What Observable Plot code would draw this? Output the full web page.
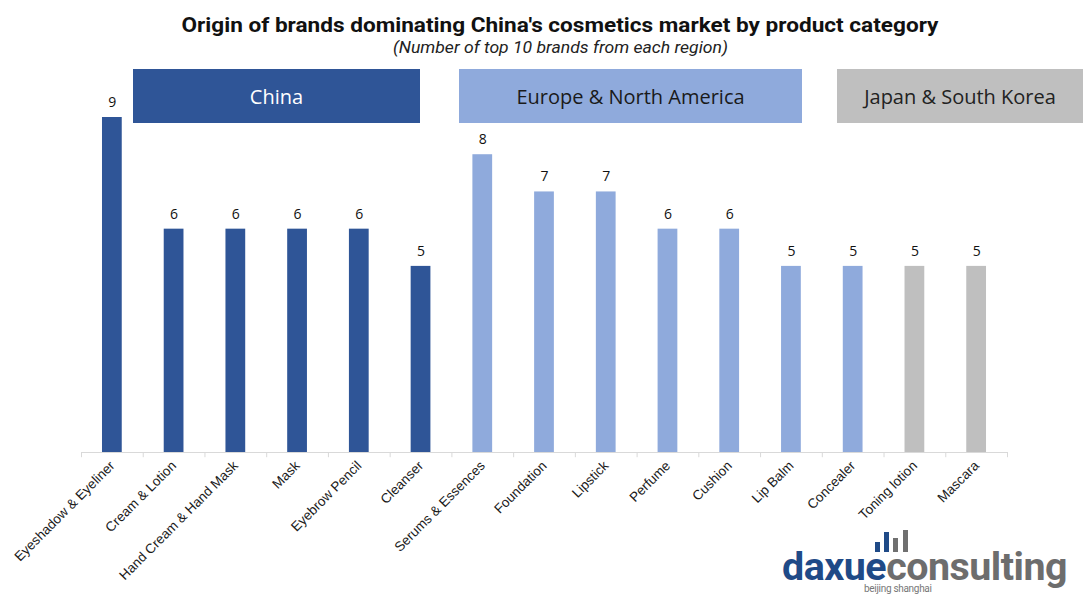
<!DOCTYPE html>
<html><head><meta charset="utf-8">
<script src="https://cdn.jsdelivr.net/npm/d3@7"></script>
<script src="https://cdn.jsdelivr.net/npm/@observablehq/plot@0.6"></script>
<style>
body{margin:0;background:#fff;}
#wrap{position:relative;width:1086px;height:607px;overflow:hidden;background:#fff;}
#header{position:relative;height:60px;}
#title{position:absolute;top:13px;left:0;width:1120px;text-align:center;font-family:Roboto,sans-serif;font-weight:700;font-size:21px;color:#111;white-space:nowrap;}
#title span, #subtitle span{display:inline-block;transform-origin:center;}
#subtitle{position:absolute;top:38px;left:0;width:1120px;text-align:center;font-family:Roboto,sans-serif;font-style:italic;font-size:16px;color:#222;white-space:nowrap;}
.leg{position:absolute;top:69px;height:54px;display:flex;align-items:center;justify-content:center;font-family:"Open Sans",sans-serif;font-size:20px;}
#logo{position:absolute;left:782px;top:551px;white-space:nowrap;font-family:Roboto,sans-serif;font-weight:700;font-size:38px;line-height:32px;height:32px;}
#logo .w{display:inline-block;transform-origin:left top;letter-spacing:-0.5px;}
.ib{position:absolute;width:5px;}
#city{position:absolute;left:864px;top:584px;font-family:Roboto,sans-serif;font-size:10px;line-height:10px;color:#777;letter-spacing:-0.3px;}
</style></head>
<body>
<div id="wrap">
  <div id="header">
    <div id="title"><span id="tt">Origin of brands dominating China's cosmetics market by product category</span></div>
    <div id="subtitle"><span id="st">(Number of top 10 brands from each region)</span></div>
  </div>
  <div id="chart"></div>
  <div id="legend"></div>
  <div class="ib" style="left:875px;top:542px;height:10px;background:#1F4A87"></div>
  <div class="ib" style="left:884px;top:532px;height:20px;background:#1F4A87"></div>
  <div class="ib" style="left:893px;top:538px;height:14px;background:#707070"></div>
  <div class="ib" style="left:903px;top:530px;height:22px;background:#707070"></div>
  <div id="logo"><span class="w" id="lw"><span style="color:#1F4A87">daxue</span><span style="color:#6d6d6d">consulting</span></span></div>
  <div id="city">beijing shanghai</div>
</div>
<script>
const categories = ["Eyeshadow & Eyeliner","Cream & Lotion","Hand Cream & Hand Mask","Mask","Eyebrow Pencil","Cleanser","Serums & Essences","Foundation","Lipstick","Perfume","Cushion","Lip Balm","Concealer","Toning lotion","Mascara"];
const values = [9,6,6,6,6,5,8,7,7,6,6,5,5,5,5];
const regions = ["China","China","China","China","China","China","Europe & North America","Europe & North America","Europe & North America","Europe & North America","Europe & North America","Europe & North America","Europe & North America","Japan & South Korea","Japan & South Korea"];
const regionNames = ["China","Europe & North America","Japan & South Korea"];
const regionColors = ["#2F5597","#8FAADC","#BFBFBF"];
const legendText = ["#ffffff","#1a1a1a","#222222"];

const data = categories.map((c,i)=>({category:c, value:values[i], region:regions[i]}));

const W = 1086, H = 547, mL = 81, mR = 79;
const step = (W - mL - mR) / categories.length;

const chart = Plot.plot({
  width: W, height: H,
  marginTop: 57, marginBottom: 155, marginLeft: mL, marginRight: mR,
  x: {domain: categories, paddingInner: 0.68, paddingOuter: 0.34, round: false, label: null},
  y: {domain: [0, 9], axis: null},
  color: {domain: regionNames, range: regionColors},
  style: {fontFamily: "'Liberation Sans', Arial, sans-serif"},
  marks: [
    Plot.ruleY([0], {stroke: "#d9d9d9", strokeWidth: 1}),
    Plot.ruleX(categories, {x: d => d, dx: -step/2, y1: 0, y2: -0.14, stroke: "#d9d9d9"}),
    Plot.ruleX([categories[categories.length-1]], {x: d => d, dx: step/2, y1: 0, y2: -0.14, stroke: "#d9d9d9"}),
    Plot.barY(data, {x: "category", y: "value", fill: "region"}),
    Plot.text(data, {x: "category", y: "value", text: d => String(d.value), dy: -15, fontSize: 14, fill: "#111", fontFamily: "'Open Sans', sans-serif"}),
    Plot.axisX({tickSize: 0, tickPadding: 11, tickRotate: -45, fontSize: 13.5, fill: "#1a1a1a", label: null})
  ]
});
document.getElementById("chart").appendChild(chart);

// legend boxes (HTML)
const legPos = [[133,420],[459,802],[837,1083]];
const leg = document.getElementById("legend");
regionNames.forEach((r,i)=>{
  const d = document.createElement("div");
  d.className = "leg";
  d.style.left = legPos[i][0] + "px";
  d.style.width = (legPos[i][1]-legPos[i][0]) + "px";
  d.style.background = regionColors[i];
  d.style.color = legendText[i];
  d.textContent = r;
  leg.appendChild(d);
});

function fit(id, target){
  const el = document.getElementById(id);
  const w = el.getBoundingClientRect().width;
  el.style.transform = `scaleX(${target / w})`;
}
fit("tt", 757);
fit("st", 335);
fit("lw", 285);
</script>
</body></html>
